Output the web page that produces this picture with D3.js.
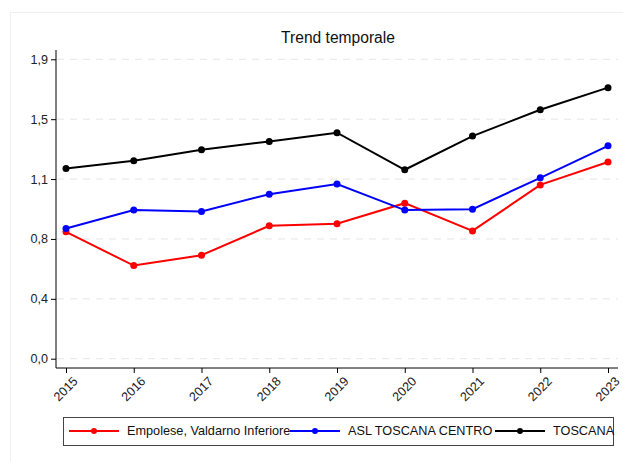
<!DOCTYPE html>
<html lang="it">
<head>
	<meta charset="UTF-8">
	<title>Trend temporale</title>
	<script src="https://cdn.jsdelivr.net/npm/d3@7"></script>
	<style>
		body { margin: 0; background: #fff; }
		text { font-family: "Liberation Sans", Arial, sans-serif; }
	</style>
</head>
<body>
	<script>
	const years = ['2015', '2016', '2017', '2018', '2019', '2020', '2021', '2022', '2023']
	const empolese = [0.805, 0.591, 0.657, 0.843, 0.856, 0.987, 0.811, 1.103, 1.248]
	const aslCentro = [0.826, 0.943, 0.934, 1.044, 1.108, 0.943, 0.949, 1.148, 1.351]
	const toscana = [1.207, 1.256, 1.326, 1.379, 1.434, 1.199, 1.413, 1.580, 1.720]
	const yTicks = [0, 0.38, 0.76, 1.14, 1.52, 1.9]

	const series = [
		{ name: 'Empolese, Valdarno Inferiore', values: empolese, color: '#ff0000' },
		{ name: 'ASL TOSCANA CENTRO', values: aslCentro, color: '#0000ff' },
		{ name: 'TOSCANA', values: toscana, color: '#000000' }
	]

	const width = 623, height = 462
	const svg = d3.select('body').append('svg')
		.attr('width', width)
		.attr('height', height)

	// faint outer frame
	svg.append('rect')
		.attr('x', 10.5).attr('y', 12.5)
		.attr('width', 640).attr('height', 480)
		.attr('fill', 'none')
		.attr('stroke', '#edf2f0')

	const x = d3.scalePoint()
		.domain(years)
		.range([66, 608])

	const y = d3.scaleLinear()
		.domain([0, 1.9])
		.range([358.7, 59.3])

	// grid
	svg.append('g')
		.selectAll('line')
		.data(yTicks)
		.enter()
		.append('line')
		.attr('x1', 57)
		.attr('x2', 618)
		.attr('y1', d => y(d))
		.attr('y2', d => y(d))
		.attr('stroke', '#e6e6e6')
		.attr('stroke-dasharray', '7,6')

	// y axis
	const gy = svg.append('g')
		.attr('transform', 'translate(56,0)')
		.call(d3.axisLeft(y).tickValues(yTicks).tickSize(5).tickPadding(3)
			.tickFormat(d => d3.format('.1f')(d).replace('.', ',')))
	gy.select('.domain').attr('d', 'M0,50V368')
	gy.selectAll('text').attr('font-size', 12.6).attr('fill', '#222').style('font-family', '"Liberation Sans", Arial, sans-serif')

	// x axis
	const gx = svg.append('g')
		.attr('transform', 'translate(0,368)')
		.call(d3.axisBottom(x).tickSize(5).tickPadding(2))
	gx.select('.domain').attr('d', 'M56,0H618')
	gx.selectAll('text')
		.attr('font-size', 12.6)
		.attr('fill', '#222')
		.style('font-family', '"Liberation Sans", Arial, sans-serif')
		.attr('text-anchor', 'end')
		.attr('dy', '0.35em')
		.attr('transform', 'translate(4,6) rotate(-45)')

	// title
	svg.append('text')
		.attr('x', 338)
		.attr('y', 42.5)
		.attr('text-anchor', 'middle')
		.attr('font-size', 15.6)
		.attr('fill', '#111')
		.text('Trend temporale')

	const line = d3.line()
		.x((d, i) => x(years[i]))
		.y(d => y(d))

	series.forEach(s => {
		svg.append('path')
			.datum(s.values)
			.attr('d', line)
			.attr('fill', 'none')
			.attr('stroke', s.color)
			.attr('stroke-width', 2)
		svg.append('g')
			.selectAll('circle')
			.data(s.values)
			.enter()
			.append('circle')
			.attr('cx', (d, i) => x(years[i]))
			.attr('cy', d => y(d))
			.attr('r', 3.5)
			.attr('fill', s.color)
	})

	// legend
	svg.append('rect')
		.attr('x', 63.5).attr('y', 417.5)
		.attr('width', 550).attr('height', 28)
		.attr('fill', '#fff')
		.attr('stroke', '#444')

	const legendX = [69, 290, 495]
	const legend = svg.selectAll('.legend')
		.data(series)
		.enter()
		.append('g')
		.attr('class', 'legend')
		.attr('transform', (d, i) => `translate(${legendX[i]},431)`)
	legend.append('line')
		.attr('x1', 0).attr('x2', 50)
		.attr('stroke', d => d.color)
		.attr('stroke-width', 2)
	legend.append('circle')
		.attr('cx', 25).attr('r', 3)
		.attr('fill', d => d.color)
	legend.append('text')
		.attr('x', 58)
		.attr('dy', '0.35em')
		.attr('font-size', 12.7)
		.attr('fill', '#111')
		.text(d => d.name)
	</script>
</body>
</html>
